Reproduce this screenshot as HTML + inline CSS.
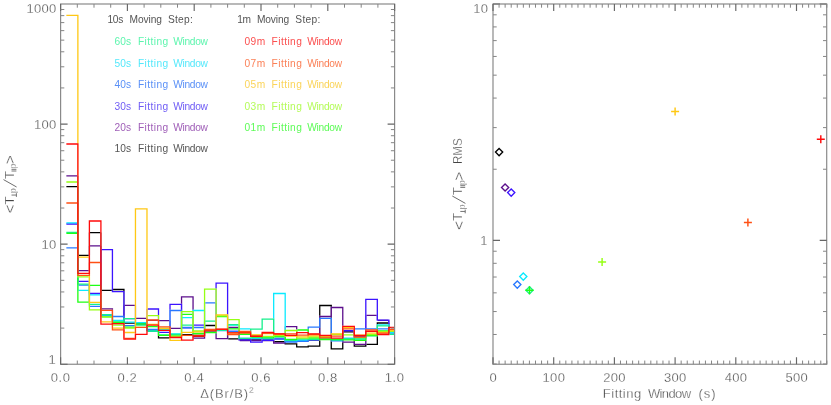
<!DOCTYPE html>
<html><head><meta charset="utf-8"><title>Fitting window comparison</title>
<style>html,body{margin:0;padding:0;background:#fff}svg{display:block;will-change:transform;opacity:0.999}</style></head>
<body>
<svg width="831" height="405" viewBox="0 0 831 405">
<rect width="831" height="405" fill="#fff"/>
<g fill="none" stroke-width="1.30" stroke-linecap="butt">
<path stroke="#000000" stroke-opacity="0.5" d="M77.88 186.60V255.40M89.39 232.60V255.40M100.91 232.60V290.40M112.43 289.50V290.40M123.94 291.05V323.20M135.46 323.20V324.20M146.98 324.20V331.00M158.50 331.00V336.05M170.01 337.00V337.90M181.53 334.60V337.00M193.05 334.60V336.00M204.57 325.50V336.00M216.08 325.50V330.00M227.60 330.00V338.90M239.12 338.90V339.00M250.63 339.00V339.15M250.63 339.25V339.90M262.15 339.90V340.00M273.67 340.00V341.60M285.19 341.60V343.65M319.74 315.85V340.65M331.26 306.85V317.15M331.26 317.65V341.45M342.77 331.90V342.85M354.29 331.90V341.05M354.29 341.55V345.05M365.81 344.40V345.05M377.32 324.15V336.35M388.84 323.00V332.00"/>
<path stroke="#000000" d="M66.36 186.60H77.23M78.53 255.40H88.74M90.04 232.60H100.26M101.56 290.40H111.78M113.08 289.50H124.59M124.59 323.20H134.81M136.11 324.20H146.33M147.63 331.00H157.85M157.85 337.90H169.36M170.66 337.00H180.88M182.18 334.60H192.40M193.70 336.00H203.92M205.22 325.50H215.43M216.73 330.00H226.95M228.25 338.90H238.47M239.77 339.00H249.98M251.28 339.90H261.50M262.80 340.00H273.02M274.32 341.60H284.54M284.54 343.90H297.35M296.05 346.90H308.87M307.57 346.20H320.39M319.09 305.50H331.91M330.61 348.90H343.42M343.42 331.90H353.64M353.64 346.20H366.46M366.46 344.40H377.97M376.67 323.00H388.19M389.49 332.00H394.60M123.94 289.50V291.05M158.50 336.05V337.90M250.63 339.15V339.25M285.19 343.65V343.90M296.70 343.90V346.90M308.22 346.20V346.90M319.74 305.50V315.85M319.74 340.65V346.20M331.26 305.50V306.85M331.26 317.15V317.65M331.26 341.45V348.90M342.77 342.85V348.90M354.29 341.05V341.55M354.29 345.05V346.20M365.81 345.05V346.20M377.32 323.00V324.15M377.32 336.35V344.40"/>
<path stroke="#5c0f8c" stroke-opacity="0.5" d="M77.88 175.90V270.70M89.39 245.90V270.70M100.91 245.90V308.90M112.43 309.75V323.50M123.94 305.40V323.50M135.46 305.40V318.30M146.98 318.30V320.40M158.50 320.40V320.70M170.01 320.70V328.30M181.53 303.75V328.30M193.05 309.85V334.45M193.05 334.75V338.20M204.57 332.00V336.65M216.08 332.00V333.15M227.60 327.50V335.25M239.12 327.50V340.50M273.67 340.50V341.05M285.19 326.60V342.65M296.70 329.35V341.00M308.22 340.00V341.00M319.74 317.65V327.85M319.74 333.15V340.00M342.77 325.65V341.45M365.81 315.40V341.05M377.32 315.40V320.30M388.84 320.30V331.00"/>
<path stroke="#5c0f8c" d="M66.36 175.90H77.23M78.53 270.70H88.74M90.04 245.90H100.26M101.56 308.90H113.08M113.08 323.50H123.29M124.59 305.40H134.81M136.11 318.30H146.33M147.63 320.40H157.85M159.15 320.70H169.36M170.66 328.30H180.88M180.88 296.80H193.70M193.70 338.20H205.22M205.22 332.00H215.43M215.43 338.60H228.25M228.25 327.50H238.47M239.77 340.50H249.98M251.28 340.50H261.50M262.80 340.50H273.02M273.02 343.00H285.84M285.84 326.60H297.35M297.35 341.00H307.57M308.87 340.00H319.09M319.09 316.50H331.91M330.61 307.50H343.42M342.12 342.20H354.94M353.64 344.40H366.46M366.46 315.40H376.67M377.97 320.30H388.19M389.49 331.00H394.60M112.43 308.90V309.75M181.53 296.80V303.75M193.05 296.80V309.85M193.05 334.45V334.75M204.57 336.65V338.20M216.08 333.15V338.60M227.60 335.25V338.60M273.67 341.05V343.00M285.19 342.65V343.00M296.70 326.60V329.35M319.74 316.50V317.65M319.74 327.85V333.15M331.26 307.50V316.50M342.77 307.50V325.65M342.77 341.45V342.20M354.29 342.20V344.40M365.81 341.05V344.40"/>
<path stroke="#3c14ff" stroke-opacity="0.5" d="M77.88 224.00V281.40M89.39 281.40V293.50M100.91 249.60V293.50M123.94 315.85V318.60M135.46 318.60V323.90M146.98 309.00V323.90M158.50 315.05V332.30M170.01 309.85V332.30M181.53 309.85V327.80M193.05 325.20V327.80M204.57 325.20V331.80M216.08 288.55V331.80M227.60 314.15V331.50M239.12 331.50V339.15M273.67 338.90V339.85M285.19 338.90V341.00M308.22 340.00V341.00M319.74 338.00V340.00M331.26 338.00V340.00M342.77 330.75V340.00M354.29 330.75V336.40M365.81 328.15V336.40M388.84 324.15V331.50"/>
<path stroke="#3c14ff" d="M66.36 224.00H77.23M78.53 281.40H88.74M90.04 293.50H100.26M101.56 249.60H113.08M111.78 291.70H124.59M124.59 318.60H134.81M136.11 323.90H146.33M147.63 309.00H159.15M159.15 332.30H169.36M169.36 304.40H182.18M182.18 327.80H192.40M193.70 325.20H203.92M205.22 331.80H215.43M215.43 283.20H228.25M228.25 331.50H238.47M238.47 339.90H251.28M249.98 342.20H262.80M261.50 340.40H274.32M274.32 338.90H284.54M285.84 341.00H296.05M297.35 341.00H307.57M308.87 340.00H319.09M320.39 338.00H330.61M331.91 340.00H342.12M343.42 330.75H353.64M354.94 336.40H365.16M365.16 299.40H377.97M376.67 320.10H389.49M389.49 331.50H394.60M112.43 249.60V291.70M123.94 291.70V315.85M158.50 309.00V315.05M170.01 304.40V309.85M181.53 304.40V309.85M216.08 283.20V288.55M227.60 283.20V314.15M239.12 339.15V339.90M250.63 339.90V342.20M262.15 340.40V342.20M273.67 339.85V340.40M365.81 299.40V328.15M377.32 299.40V320.10M388.84 320.10V324.15"/>
<path stroke="#2878ff" stroke-opacity="0.5" d="M77.88 247.90V285.10M89.39 285.10V306.40M100.91 306.40V315.60M112.43 315.60V316.50M123.94 317.95V325.70M135.46 324.00V325.70M146.98 324.00V329.40M158.50 329.40V329.50M170.01 326.15V329.50M181.53 310.95V327.50M204.57 302.90V327.50M216.08 302.90V330.50M227.60 330.50V331.50M239.12 331.50V338.50M262.15 338.50V338.85M285.19 339.20V341.15M308.22 329.35V340.75M331.26 333.15V340.65M342.77 338.50V340.65M354.29 328.80V338.50M377.32 328.80V328.90M388.84 328.90V333.20"/>
<path stroke="#2878ff" d="M66.36 247.90H77.23M78.53 285.10H88.74M90.04 306.40H100.26M101.56 315.60H111.78M113.08 316.50H124.59M124.59 325.70H134.81M136.11 324.00H146.33M147.63 329.40H157.85M159.15 329.50H169.36M169.36 310.50H182.18M182.18 327.50H192.40M193.70 327.50H203.92M205.22 302.90H215.43M216.73 330.50H226.95M228.25 331.50H238.47M239.77 338.50H249.98M251.28 338.50H261.50M261.50 339.00H274.32M273.02 339.20H284.54M284.54 342.00H297.35M296.05 341.40H308.87M307.57 327.20H320.39M319.09 318.30H331.91M330.61 340.80H343.42M343.42 338.50H353.64M354.94 328.80H366.46M365.16 328.80H376.67M377.97 328.90H388.19M389.49 333.20H394.60M123.94 316.50V317.95M170.01 310.50V326.15M181.53 310.50V310.95M262.15 338.85V339.00M273.67 339.00V339.20M285.19 341.15V342.00M296.70 341.40V342.00M308.22 327.20V329.35M308.22 340.75V341.40M319.74 318.30V327.20M331.26 318.30V333.15M331.26 340.65V340.80M342.77 340.65V340.80"/>
<path stroke="#0aeaff" stroke-opacity="0.5" d="M77.88 222.80V290.40M89.39 290.40V294.90M100.91 294.90V314.80M112.43 314.80V320.30M123.94 320.30V322.10M135.46 322.10V322.60M146.98 322.60V331.00M158.50 329.30V331.00M170.01 329.30V334.00M181.53 317.70V334.00M193.05 310.95V317.70M204.57 310.50V331.00M216.08 330.30V331.00M227.60 325.00V330.30M239.12 325.00V328.80M250.63 328.80V338.20M262.15 338.00V338.20M273.67 318.55V338.00M285.19 329.85V340.45M296.70 340.10V340.45M308.22 339.30V340.10M319.74 338.50V339.30M331.26 338.50V340.00M342.77 338.50V340.00M354.29 338.50V339.00M365.81 335.50V339.00M377.32 325.25V335.50M388.84 325.25V332.70"/>
<path stroke="#0aeaff" d="M66.36 222.80H77.23M78.53 290.40H88.74M90.04 294.90H100.26M101.56 314.80H111.78M113.08 320.30H123.29M124.59 322.10H134.81M136.11 322.60H146.33M147.63 331.00H157.85M159.15 329.30H169.36M170.66 334.00H180.88M182.18 317.70H192.40M192.40 310.50H203.92M205.22 331.00H215.43M216.73 330.30H226.95M228.25 325.00H238.47M239.77 328.80H249.98M251.28 338.20H261.50M262.80 338.00H273.02M273.02 293.50H285.84M284.54 340.50H297.35M297.35 340.10H307.57M308.87 339.30H319.09M320.39 338.50H330.61M331.91 340.00H342.12M343.42 338.50H353.64M354.94 339.00H365.16M366.46 335.50H376.67M376.67 324.80H389.49M389.49 332.70H394.60M193.05 310.50V310.95M273.67 293.50V318.55M285.19 293.50V329.85M285.19 340.45V340.50M296.70 340.45V340.50M377.32 324.80V325.25M388.84 324.80V325.25"/>
<path stroke="#14f08c" stroke-opacity="0.5" d="M77.88 232.30V284.10M89.39 284.10V304.40M100.91 304.40V314.60M112.43 314.60V322.00M123.94 321.75V322.00M135.46 318.60V325.00M146.98 325.00V331.20M158.50 331.20V335.00M170.01 334.40V335.00M181.53 325.20V334.40M193.05 325.20V333.80M204.57 321.20V333.80M216.08 321.20V330.00M227.60 324.70V330.00M239.12 324.70V335.25M250.63 330.85V337.65M273.67 331.85V337.00M285.19 337.00V339.80M296.70 339.00V339.80M319.74 339.00V339.60M331.26 339.00V339.50M342.77 338.90V339.50M365.81 335.50V338.90M377.32 329.35V335.50M388.84 326.85V334.40"/>
<path stroke="#14f08c" d="M66.36 232.30H77.23M78.53 284.10H88.74M90.04 304.40H100.26M101.56 314.60H111.78M113.08 322.00H123.29M123.29 318.60H134.81M136.11 325.00H146.33M147.63 331.20H157.85M159.15 335.00H169.36M170.66 334.40H180.88M182.18 325.20H192.40M193.70 333.80H203.92M205.22 321.20H215.43M216.73 330.00H226.95M228.25 324.70H238.47M238.47 338.40H251.28M249.98 329.10H262.80M261.50 319.20H274.32M274.32 337.00H284.54M285.84 339.80H296.05M297.35 339.00H308.87M307.57 339.60H319.09M320.39 339.00H330.61M331.91 339.50H342.12M343.42 338.90H354.94M353.64 338.90H365.16M366.46 335.50H376.67M376.67 325.90H389.49M389.49 334.40H394.60M123.94 318.60V321.75M239.12 335.25V338.40M250.63 329.10V330.85M250.63 337.65V338.40M262.15 319.20V329.10M273.67 319.20V331.85M308.22 339.00V339.60M377.32 325.90V329.35M388.84 325.90V326.85"/>
<path stroke="#1eff14" stroke-opacity="0.5" d="M77.88 233.30V277.45M89.39 285.40V302.10M100.91 285.40V316.90M112.43 316.90V322.40M123.94 323.05V327.20M135.46 323.90V327.20M146.98 323.90V326.60M158.50 326.60V330.95M170.01 335.40V335.90M181.53 314.30V335.90M193.05 314.30V332.95M204.57 332.50V333.50M216.08 316.50V331.45M227.60 316.50V328.80M239.12 328.80V334.40M250.63 334.40V337.00M273.67 336.40V337.05M285.19 336.40V336.75M296.70 330.00V338.75M308.22 332.05V338.00M319.74 338.00V338.45M365.81 335.70V338.15M377.32 331.00V335.25M388.84 331.00V331.30"/>
<path stroke="#1eff14" d="M66.36 233.30H77.23M77.23 302.10H88.74M90.04 285.40H100.26M101.56 316.90H111.78M113.08 322.40H124.59M124.59 327.20H134.81M136.11 323.90H146.33M147.63 326.60H157.85M157.85 335.40H169.36M170.66 335.90H180.88M182.18 314.30H192.40M192.40 333.50H203.92M205.22 332.50H216.73M216.73 316.50H226.95M228.25 328.80H238.47M239.77 334.40H249.98M251.28 337.00H261.50M261.50 337.90H274.32M274.32 336.40H284.54M284.54 339.50H297.35M297.35 330.00H308.87M308.87 338.00H319.09M319.09 339.50H331.91M330.61 339.50H343.42M342.12 339.80H354.94M353.64 340.40H366.46M366.46 335.70H377.97M377.97 331.00H388.19M389.49 331.30H394.60M77.88 277.45V302.10M123.94 322.40V323.05M158.50 330.95V335.40M193.05 332.95V333.50M216.08 331.45V332.50M262.15 337.05V337.90M273.67 337.05V337.90M285.19 336.75V339.50M296.70 338.75V339.50M308.22 330.00V332.05M319.74 338.45V339.50M342.77 339.50V339.80M354.29 339.80V340.40M365.81 338.15V340.40M377.32 335.25V335.70"/>
<path stroke="#96ff14" stroke-opacity="0.5" d="M77.88 182.00V276.05M89.39 276.80V302.95M100.91 309.90V316.90M112.43 316.90V325.20M123.94 325.20V328.20M135.46 327.30V328.20M146.98 315.70V327.30M158.50 319.35V328.50M170.01 328.50V336.50M181.53 331.65V336.50M204.57 328.85V331.00M216.08 314.15V315.90M227.60 315.90V319.70M239.12 330.85V333.00M250.63 333.00V335.50M262.15 335.50V336.40M285.19 333.15V335.50M296.70 332.05V337.45M308.22 336.80V337.45M319.74 336.80V337.00M331.26 334.50V337.00M342.77 334.50V334.90M354.29 334.90V337.50M365.81 334.60V337.50M377.32 331.70V334.60M388.84 331.30V331.70"/>
<path stroke="#96ff14" d="M66.36 182.00H77.23M77.23 276.80H88.74M88.74 309.90H100.26M101.56 316.90H111.78M113.08 325.20H123.29M124.59 328.20H134.81M136.11 327.30H146.33M147.63 315.70H159.15M159.15 328.50H169.36M170.66 336.50H180.88M180.88 311.60H193.70M192.40 331.00H203.92M203.92 289.20H216.73M216.73 315.90H226.95M228.25 319.70H239.77M239.77 333.00H249.98M251.28 335.50H261.50M262.80 336.40H274.32M273.02 335.50H284.54M284.54 330.50H297.35M296.05 338.10H308.87M308.87 336.80H319.09M320.39 337.00H330.61M331.91 334.50H342.12M343.42 334.90H353.64M354.94 337.50H365.16M366.46 334.60H376.67M377.97 331.70H388.19M389.49 331.30H394.60M77.88 276.05V276.80M89.39 302.95V309.90M158.50 315.70V319.35M181.53 311.60V331.65M193.05 311.60V331.00M204.57 289.20V328.85M216.08 289.20V314.15M239.12 319.70V330.85M273.67 335.50V336.40M285.19 330.50V333.15M296.70 330.50V332.05M296.70 337.45V338.10M308.22 337.45V338.10"/>
<path stroke="#ffc814" stroke-opacity="0.5" d="M77.88 143.35V257.20M89.39 257.20V276.05M100.91 302.30V321.90M112.43 321.90V328.20M123.94 328.20V332.50M135.46 326.65V332.50M146.98 319.35V324.30M158.50 324.30V328.30M170.01 328.30V338.25M181.53 334.75V340.40M204.57 330.00V331.80M216.08 328.45V330.00M227.60 328.45V333.00M239.12 332.20V333.00M250.63 332.20V334.90M262.15 333.50V334.90M273.67 333.50V334.50M285.19 334.50V336.05M319.74 335.80V336.80M331.26 334.85V336.80M342.77 327.60V333.80M354.29 327.60V335.10M365.81 333.10V335.10M377.32 332.50V333.10M388.84 330.50V332.50"/>
<path stroke="#ffc814" d="M66.36 15.40H78.53M78.53 257.20H88.74M88.74 302.30H100.26M101.56 321.90H111.78M113.08 328.20H123.29M124.59 332.50H134.81M134.81 208.90H147.63M147.63 324.30H157.85M159.15 328.30H169.36M169.36 340.40H180.88M180.88 332.30H193.70M192.40 331.80H203.92M205.22 330.00H215.43M215.43 314.80H228.25M228.25 333.00H238.47M239.77 332.20H249.98M251.28 334.90H261.50M262.80 333.50H273.02M274.32 334.50H284.54M284.54 336.10H297.35M296.05 336.80H308.87M307.57 335.80H319.09M320.39 336.80H330.61M330.61 333.80H342.12M343.42 327.60H353.64M354.94 335.10H365.16M366.46 333.10H376.67M377.97 332.50H388.19M389.49 330.50H394.60M77.88 15.40V143.35M89.39 276.05V302.30M135.46 208.90V326.65M146.98 208.90V319.35M170.01 338.25V340.40M181.53 332.30V334.75M193.05 331.80V332.30M216.08 314.80V328.45M227.60 314.80V328.45M285.19 336.05V336.10M296.70 336.10V336.80M308.22 335.80V336.80M331.26 333.80V334.85"/>
<path stroke="#ff5014" stroke-opacity="0.5" d="M77.88 203.00V274.05M89.39 262.50V274.05M100.91 262.50V310.40M112.43 323.05V324.85M123.94 329.90V338.30M135.46 333.65V338.30M146.98 324.55V327.30M158.50 324.55V326.80M170.01 329.65V337.20M181.53 336.95V337.20M193.05 335.40V335.50M204.57 330.15V335.50M216.08 329.30V329.50M227.60 329.30V333.45M239.12 332.15V333.45M250.63 332.15V335.80M262.15 333.00V335.80M273.67 333.00V334.00M285.19 333.80V334.00M296.70 333.80V335.10M319.74 334.50V336.15M331.26 336.10V337.80M342.77 328.80V336.10M354.29 328.80V336.15M365.81 330.65V336.15M377.32 330.65V333.20M388.84 329.30V333.20"/>
<path stroke="#ff5014" d="M66.36 203.00H77.23M77.23 275.40H90.04M90.04 262.50H100.26M101.56 310.40H113.08M111.78 329.90H123.29M124.59 338.30H134.81M134.81 327.30H146.33M146.33 320.00H159.15M159.15 326.80H170.66M170.66 337.20H180.88M180.88 335.40H192.40M193.70 335.50H203.92M203.92 329.50H215.43M216.73 329.30H226.95M226.95 334.60H239.77M238.47 331.50H251.28M251.28 335.80H261.50M262.80 333.00H273.02M274.32 334.00H284.54M285.84 333.80H296.05M297.35 335.10H308.87M307.57 334.50H319.09M319.09 337.80H330.61M331.91 336.10H342.12M343.42 328.80H353.64M353.64 337.20H366.46M365.16 330.00H377.97M377.97 333.20H388.19M389.49 329.30H394.60M77.88 274.05V275.40M89.39 274.05V275.40M112.43 310.40V323.05M112.43 324.85V329.90M135.46 327.30V333.65M146.98 320.00V324.55M158.50 320.00V324.55M170.01 326.80V329.65M181.53 335.40V336.95M204.57 329.50V330.15M227.60 333.45V334.60M239.12 331.50V332.15M239.12 333.45V334.60M250.63 331.50V332.15M308.22 334.50V335.10M319.74 336.15V337.80M354.29 336.15V337.20M365.81 330.00V330.65M365.81 336.15V337.20M377.32 330.00V330.65"/>
<path stroke="#ff0a0a" d="M66.36 144.00H78.53M77.23 273.40H90.04M88.74 221.00H101.56M100.26 324.20H113.08M111.78 323.70H124.59M123.29 339.10H136.11M134.81 334.30H147.63M146.33 325.20H159.15M157.85 330.30H170.66M169.36 337.60H182.18M180.88 340.10H193.70M192.40 336.00H205.22M203.92 330.80H216.73M215.43 329.10H228.25M226.95 332.80H239.77M238.47 332.80H251.28M249.98 336.40H262.80M261.50 332.50H274.32M273.02 333.80H285.84M284.54 335.40H297.35M296.05 332.70H308.87M307.57 333.80H320.39M319.09 335.50H331.91M330.61 338.10H343.42M342.12 326.30H354.94M353.64 335.50H366.46M365.16 331.30H377.97M376.67 334.50H389.49M388.19 327.50H394.60M77.88 144.00V273.40M89.39 221.00V273.40M100.91 221.00V324.20M112.43 323.70V324.20M123.94 323.70V339.10M135.46 334.30V339.10M146.98 325.20V334.30M158.50 325.20V330.30M170.01 330.30V337.60M181.53 337.60V340.10M193.05 336.00V340.10M204.57 330.80V336.00M216.08 329.10V330.80M227.60 329.10V332.80M250.63 332.80V336.40M262.15 332.50V336.40M273.67 332.50V333.80M285.19 333.80V335.40M296.70 332.70V335.40M308.22 332.70V333.80M319.74 333.80V335.50M331.26 335.50V338.10M342.77 326.30V338.10M354.29 326.30V335.50M365.81 331.30V335.50M377.32 331.30V334.50M388.84 327.50V334.50"/>
</g>
<rect x="60.60" y="4.00" width="334.00" height="360.25" fill="none" stroke="#8a8a8a" stroke-width="1.2"/>
<path d="M60.60 364.25L60.60 357.25M60.60 4.00L60.60 11.00M127.40 364.25L127.40 357.25M127.40 4.00L127.40 11.00M194.20 364.25L194.20 357.25M194.20 4.00L194.20 11.00M261.00 364.25L261.00 357.25M261.00 4.00L261.00 11.00M327.80 364.25L327.80 357.25M327.80 4.00L327.80 11.00M394.60 364.25L394.60 357.25M394.60 4.00L394.60 11.00M60.60 364.25L67.60 364.25M394.60 364.25L387.60 364.25M60.60 244.17L67.60 244.17M394.60 244.17L387.60 244.17M60.60 124.08L67.60 124.08M394.60 124.08L387.60 124.08" stroke="#666" stroke-width="1.15" fill="none"/>
<path d="M77.30 364.25L77.30 360.55M77.30 4.00L77.30 7.70M94.00 364.25L94.00 360.55M94.00 4.00L94.00 7.70M110.70 364.25L110.70 360.55M110.70 4.00L110.70 7.70M144.10 364.25L144.10 360.55M144.10 4.00L144.10 7.70M160.80 364.25L160.80 360.55M160.80 4.00L160.80 7.70M177.50 364.25L177.50 360.55M177.50 4.00L177.50 7.70M210.90 364.25L210.90 360.55M210.90 4.00L210.90 7.70M227.60 364.25L227.60 360.55M227.60 4.00L227.60 7.70M244.30 364.25L244.30 360.55M244.30 4.00L244.30 7.70M277.70 364.25L277.70 360.55M277.70 4.00L277.70 7.70M294.40 364.25L294.40 360.55M294.40 4.00L294.40 7.70M311.10 364.25L311.10 360.55M311.10 4.00L311.10 7.70M344.50 364.25L344.50 360.55M344.50 4.00L344.50 7.70M361.20 364.25L361.20 360.55M361.20 4.00L361.20 7.70M377.90 364.25L377.90 360.55M377.90 4.00L377.90 7.70M60.60 328.10L64.30 328.10M394.60 328.10L390.90 328.10M60.60 306.96L64.30 306.96M394.60 306.96L390.90 306.96M60.60 291.95L64.30 291.95M394.60 291.95L390.90 291.95M60.60 280.32L64.30 280.32M394.60 280.32L390.90 280.32M60.60 270.81L64.30 270.81M394.60 270.81L390.90 270.81M60.60 262.77L64.30 262.77M394.60 262.77L390.90 262.77M60.60 255.80L64.30 255.80M394.60 255.80L390.90 255.80M60.60 249.66L64.30 249.66M394.60 249.66L390.90 249.66M60.60 208.02L64.30 208.02M394.60 208.02L390.90 208.02M60.60 186.87L64.30 186.87M394.60 186.87L390.90 186.87M60.60 171.87L64.30 171.87M394.60 171.87L390.90 171.87M60.60 160.23L64.30 160.23M394.60 160.23L390.90 160.23M60.60 150.72L64.30 150.72M394.60 150.72L390.90 150.72M60.60 142.68L64.30 142.68M394.60 142.68L390.90 142.68M60.60 135.72L64.30 135.72M394.60 135.72L390.90 135.72M60.60 129.58L64.30 129.58M394.60 129.58L390.90 129.58M60.60 87.93L64.30 87.93M394.60 87.93L390.90 87.93M60.60 66.79L64.30 66.79M394.60 66.79L390.90 66.79M60.60 51.79L64.30 51.79M394.60 51.79L390.90 51.79M60.60 40.15L64.30 40.15M394.60 40.15L390.90 40.15M60.60 30.64L64.30 30.64M394.60 30.64L390.90 30.64M60.60 22.60L64.30 22.60M394.60 22.60L390.90 22.60M60.60 15.64L64.30 15.64M394.60 15.64L390.90 15.64M60.60 9.49L64.30 9.49M394.60 9.49L390.90 9.49" stroke="#858585" stroke-width="1.00" fill="none"/>
<rect x="493.00" y="4.00" width="333.70" height="360.25" fill="none" stroke="#8a8a8a" stroke-width="1.2"/>
<path d="M493.00 364.25L493.00 357.25M493.00 4.00L493.00 11.00M553.70 364.25L553.70 357.25M553.70 4.00L553.70 11.00M614.40 364.25L614.40 357.25M614.40 4.00L614.40 11.00M675.10 364.25L675.10 357.25M675.10 4.00L675.10 11.00M735.80 364.25L735.80 357.25M735.80 4.00L735.80 11.00M796.50 364.25L796.50 357.25M796.50 4.00L796.50 11.00M493.00 240.40L500.00 240.40M826.70 240.40L819.70 240.40M493.00 4.00L500.00 4.00M826.70 4.00L819.70 4.00" stroke="#666" stroke-width="1.15" fill="none"/>
<path d="M499.07 364.25L499.07 360.55M499.07 4.00L499.07 7.70M505.14 364.25L505.14 360.55M505.14 4.00L505.14 7.70M511.21 364.25L511.21 360.55M511.21 4.00L511.21 7.70M517.28 364.25L517.28 360.55M517.28 4.00L517.28 7.70M523.35 364.25L523.35 360.55M523.35 4.00L523.35 7.70M529.42 364.25L529.42 360.55M529.42 4.00L529.42 7.70M535.49 364.25L535.49 360.55M535.49 4.00L535.49 7.70M541.56 364.25L541.56 360.55M541.56 4.00L541.56 7.70M547.63 364.25L547.63 360.55M547.63 4.00L547.63 7.70M559.77 364.25L559.77 360.55M559.77 4.00L559.77 7.70M565.84 364.25L565.84 360.55M565.84 4.00L565.84 7.70M571.91 364.25L571.91 360.55M571.91 4.00L571.91 7.70M577.98 364.25L577.98 360.55M577.98 4.00L577.98 7.70M584.05 364.25L584.05 360.55M584.05 4.00L584.05 7.70M590.12 364.25L590.12 360.55M590.12 4.00L590.12 7.70M596.19 364.25L596.19 360.55M596.19 4.00L596.19 7.70M602.26 364.25L602.26 360.55M602.26 4.00L602.26 7.70M608.33 364.25L608.33 360.55M608.33 4.00L608.33 7.70M620.47 364.25L620.47 360.55M620.47 4.00L620.47 7.70M626.54 364.25L626.54 360.55M626.54 4.00L626.54 7.70M632.61 364.25L632.61 360.55M632.61 4.00L632.61 7.70M638.68 364.25L638.68 360.55M638.68 4.00L638.68 7.70M644.75 364.25L644.75 360.55M644.75 4.00L644.75 7.70M650.82 364.25L650.82 360.55M650.82 4.00L650.82 7.70M656.89 364.25L656.89 360.55M656.89 4.00L656.89 7.70M662.96 364.25L662.96 360.55M662.96 4.00L662.96 7.70M669.03 364.25L669.03 360.55M669.03 4.00L669.03 7.70M681.17 364.25L681.17 360.55M681.17 4.00L681.17 7.70M687.24 364.25L687.24 360.55M687.24 4.00L687.24 7.70M693.31 364.25L693.31 360.55M693.31 4.00L693.31 7.70M699.38 364.25L699.38 360.55M699.38 4.00L699.38 7.70M705.45 364.25L705.45 360.55M705.45 4.00L705.45 7.70M711.52 364.25L711.52 360.55M711.52 4.00L711.52 7.70M717.59 364.25L717.59 360.55M717.59 4.00L717.59 7.70M723.66 364.25L723.66 360.55M723.66 4.00L723.66 7.70M729.73 364.25L729.73 360.55M729.73 4.00L729.73 7.70M741.87 364.25L741.87 360.55M741.87 4.00L741.87 7.70M747.94 364.25L747.94 360.55M747.94 4.00L747.94 7.70M754.01 364.25L754.01 360.55M754.01 4.00L754.01 7.70M760.08 364.25L760.08 360.55M760.08 4.00L760.08 7.70M766.15 364.25L766.15 360.55M766.15 4.00L766.15 7.70M772.22 364.25L772.22 360.55M772.22 4.00L772.22 7.70M778.29 364.25L778.29 360.55M778.29 4.00L778.29 7.70M784.36 364.25L784.36 360.55M784.36 4.00L784.36 7.70M790.43 364.25L790.43 360.55M790.43 4.00L790.43 7.70M802.57 364.25L802.57 360.55M802.57 4.00L802.57 7.70M808.64 364.25L808.64 360.55M808.64 4.00L808.64 7.70M814.71 364.25L814.71 360.55M814.71 4.00L814.71 7.70M820.78 364.25L820.78 360.55M820.78 4.00L820.78 7.70M826.85 364.25L826.85 360.55M826.85 4.00L826.85 7.70M493.00 364.01L496.70 364.01M826.70 364.01L823.00 364.01M493.00 334.47L496.70 334.47M826.70 334.47L823.00 334.47M493.00 311.56L496.70 311.56M826.70 311.56L823.00 311.56M493.00 292.85L496.70 292.85M826.70 292.85L823.00 292.85M493.00 277.02L496.70 277.02M826.70 277.02L823.00 277.02M493.00 263.31L496.70 263.31M826.70 263.31L823.00 263.31M493.00 251.22L496.70 251.22M826.70 251.22L823.00 251.22M493.00 169.24L496.70 169.24M826.70 169.24L823.00 169.24M493.00 127.61L496.70 127.61M826.70 127.61L823.00 127.61M493.00 98.07L496.70 98.07M826.70 98.07L823.00 98.07M493.00 75.16L496.70 75.16M826.70 75.16L823.00 75.16M493.00 56.45L496.70 56.45M826.70 56.45L823.00 56.45M493.00 40.62L496.70 40.62M826.70 40.62L823.00 40.62M493.00 26.91L496.70 26.91M826.70 26.91L823.00 26.91M493.00 14.82L496.70 14.82M826.70 14.82L823.00 14.82" stroke="#858585" stroke-width="1.00" fill="none"/>
<path d="M499.10 148.50L502.70 152.10L499.10 155.70L495.50 152.10Z" fill="none" stroke="#000000" stroke-width="1.35"/>
<path d="M505.10 183.90L508.70 187.50L505.10 191.10L501.50 187.50Z" fill="none" stroke="#5c0f8c" stroke-width="1.35"/>
<path d="M511.20 189.00L514.80 192.60L511.20 196.20L507.60 192.60Z" fill="none" stroke="#3c14ff" stroke-width="1.35"/>
<path d="M517.30 281.00L520.90 284.60L517.30 288.20L513.70 284.60Z" fill="none" stroke="#2878ff" stroke-width="1.35"/>
<path d="M523.30 273.00L526.90 276.60L523.30 280.20L519.70 276.60Z" fill="none" stroke="#0aeaff" stroke-width="1.35"/>
<path d="M529.50 286.70L533.10 290.30L529.50 293.90L525.90 290.30Z" fill="none" stroke="#14f08c" stroke-width="1.35"/>
<path d="M525.50 290.30H533.50M529.50 286.30V294.30" fill="none" stroke="#1eff14" stroke-width="1.45"/>
<path d="M598.10 261.90H606.10M602.10 257.90V265.90" fill="none" stroke="#96ff14" stroke-width="1.45"/>
<path d="M671.10 111.40H679.10M675.10 107.40V115.40" fill="none" stroke="#ffc814" stroke-width="1.45"/>
<path d="M743.90 222.40H751.90M747.90 218.40V226.40" fill="none" stroke="#ff5014" stroke-width="1.45"/>
<path d="M816.80 139.20H824.80M820.80 135.20V143.20" fill="none" stroke="#ff0a0a" stroke-width="1.45"/>
<g font-family="'Liberation Sans', sans-serif" font-size="13" fill="#444444" letter-spacing="0.3" stroke="#fff" stroke-width="0.3">
<text x="56.60" y="13.00" text-anchor="end" >1000</text>
<text x="56.60" y="128.98" text-anchor="end" >100</text>
<text x="56.60" y="249.07" text-anchor="end" >10</text>
<text x="56.00" y="364.00" text-anchor="end" >1</text>
<text x="60.70" y="382.40" text-anchor="middle" letter-spacing="0.6">0.0</text>
<text x="127.50" y="382.40" text-anchor="middle" letter-spacing="0.6">0.2</text>
<text x="194.30" y="382.40" text-anchor="middle" letter-spacing="0.6">0.4</text>
<text x="261.10" y="382.40" text-anchor="middle" letter-spacing="0.6">0.6</text>
<text x="327.90" y="382.40" text-anchor="middle" letter-spacing="0.6">0.8</text>
<text x="394.70" y="382.40" text-anchor="middle" letter-spacing="0.6">1.0</text>
<text x="227.40" y="397.50" text-anchor="middle" letter-spacing="0.85">&#916;(Br/B)<tspan font-size="8.5" dy="-5">2</tspan></text>
<text x="488.40" y="13.00" text-anchor="end" >10</text>
<text x="487.80" y="245.00" text-anchor="end" >1</text>
<text x="493.20" y="382.20" text-anchor="middle" >0</text>
<text x="553.90" y="382.20" text-anchor="middle" >100</text>
<text x="614.60" y="382.20" text-anchor="middle" >200</text>
<text x="675.30" y="382.20" text-anchor="middle" >300</text>
<text x="736.00" y="382.20" text-anchor="middle" >400</text>
<text x="796.70" y="382.20" text-anchor="middle" >500</text>
<text y="397.5"><tspan x="602.8" letter-spacing="0.5">Fitting </tspan><tspan x="647.9" letter-spacing="-0.6">Window </tspan><tspan x="698.6" letter-spacing="0.9">(s)</tspan></text>
</g>
<g font-family="'Liberation Sans', sans-serif" font-size="10.2">
<text y="23" fill="#555555"><tspan x="107.4" letter-spacing="-0.20">10s </tspan><tspan x="129.6" letter-spacing="-0.08">Moving </tspan><tspan x="167.9" letter-spacing="0.30">Step:</tspan></text>
<text y="23" fill="#555555"><tspan x="237.2" letter-spacing="-0.30">1m </tspan><tspan x="257.0" letter-spacing="-0.15">Moving </tspan><tspan x="295.3" letter-spacing="0.30">Step:</tspan></text>
<text y="45" fill="#5df5ae"><tspan x="114.4" letter-spacing="0.20">60s </tspan><tspan x="137.9" letter-spacing="0.42">Fitting </tspan><tspan x="173.2" letter-spacing="-0.30">Window</tspan></text>
<text y="67" fill="#55e8fb"><tspan x="114.4" letter-spacing="0.20">50s </tspan><tspan x="137.9" letter-spacing="0.42">Fitting </tspan><tspan x="173.2" letter-spacing="-0.30">Window</tspan></text>
<text y="88" fill="#5a90f7"><tspan x="114.4" letter-spacing="0.20">40s </tspan><tspan x="137.9" letter-spacing="0.42">Fitting </tspan><tspan x="173.2" letter-spacing="-0.30">Window</tspan></text>
<text y="110" fill="#6f5cf5"><tspan x="114.4" letter-spacing="0.20">30s </tspan><tspan x="137.9" letter-spacing="0.42">Fitting </tspan><tspan x="173.2" letter-spacing="-0.30">Window</tspan></text>
<text y="131" fill="#a060b8"><tspan x="114.4" letter-spacing="0.20">20s </tspan><tspan x="137.9" letter-spacing="0.42">Fitting </tspan><tspan x="173.2" letter-spacing="-0.30">Window</tspan></text>
<text y="152" fill="#555555"><tspan x="114.4" letter-spacing="0.20">10s </tspan><tspan x="137.9" letter-spacing="0.42">Fitting </tspan><tspan x="173.2" letter-spacing="-0.30">Window</tspan></text>
<text y="45" fill="#fb4f4f"><tspan x="244.5" letter-spacing="0.40">09m </tspan><tspan x="271.6" letter-spacing="0.42">Fitting </tspan><tspan x="307.3" letter-spacing="-0.30">Window</tspan></text>
<text y="67" fill="#fb8158"><tspan x="244.5" letter-spacing="0.40">07m </tspan><tspan x="271.6" letter-spacing="0.42">Fitting </tspan><tspan x="307.3" letter-spacing="-0.30">Window</tspan></text>
<text y="88" fill="#fbd45a"><tspan x="244.5" letter-spacing="0.40">05m </tspan><tspan x="271.6" letter-spacing="0.42">Fitting </tspan><tspan x="307.3" letter-spacing="-0.30">Window</tspan></text>
<text y="110" fill="#b5fb5a"><tspan x="244.5" letter-spacing="0.40">03m </tspan><tspan x="271.6" letter-spacing="0.42">Fitting </tspan><tspan x="307.3" letter-spacing="-0.30">Window</tspan></text>
<text y="131" fill="#5efb58"><tspan x="244.5" letter-spacing="0.40">01m </tspan><tspan x="271.6" letter-spacing="0.42">Fitting </tspan><tspan x="307.3" letter-spacing="-0.30">Window</tspan></text>
</g>
<g transform="translate(13.50 212.60) rotate(-90)" font-family="'Liberation Sans', sans-serif" font-size="13" fill="#444444" stroke="#fff" stroke-width="0.3">
<text x="-0.90" y="1.30" font-size="15.5" >&lt;</text>
<text x="8.20" y="0.00" font-size="13" >T</text>
<path d="M15.7 2.9H19.4M17.55 2.9V-2.0" stroke="#6e6e6e" stroke-width="0.95" fill="none"/>
<text x="19.70" y="2.90" font-size="8.6" >p</text>
<path d="M25.6 3.1L33.0 -10.0" stroke="#6e6e6e" stroke-width="1.00" fill="none"/>
<text x="33.70" y="0.00" font-size="13" >T</text>
<path d="M41.6 2.9V-2.0M43.3 2.9V-2.0" stroke="#6e6e6e" stroke-width="0.95" fill="none"/>
<text x="44.00" y="2.90" font-size="8.6" >p</text>
<text x="48.30" y="1.30" font-size="15.5" >&gt;</text>
</g>
<g transform="translate(462.30 229.00) rotate(-90)" font-family="'Liberation Sans', sans-serif" font-size="13" fill="#444444" stroke="#fff" stroke-width="0.3">
<text x="-0.90" y="1.30" font-size="15.5" >&lt;</text>
<text x="8.20" y="0.00" font-size="13" >T</text>
<path d="M15.7 2.9H19.4M17.55 2.9V-2.0" stroke="#6e6e6e" stroke-width="0.95" fill="none"/>
<text x="19.70" y="2.90" font-size="8.6" >p</text>
<path d="M25.6 3.1L33.0 -10.0" stroke="#6e6e6e" stroke-width="1.00" fill="none"/>
<text x="33.70" y="0.00" font-size="13" >T</text>
<path d="M41.6 2.9V-2.0M43.3 2.9V-2.0" stroke="#6e6e6e" stroke-width="0.95" fill="none"/>
<text x="44.00" y="2.90" font-size="8.6" >p</text>
<text x="48.30" y="1.30" font-size="15.5" >&gt;</text>
<text x="64.90" y="0.00" font-size="13" textLength="25.8" lengthAdjust="spacingAndGlyphs">RMS</text>
</g>
</svg>
</body></html>
